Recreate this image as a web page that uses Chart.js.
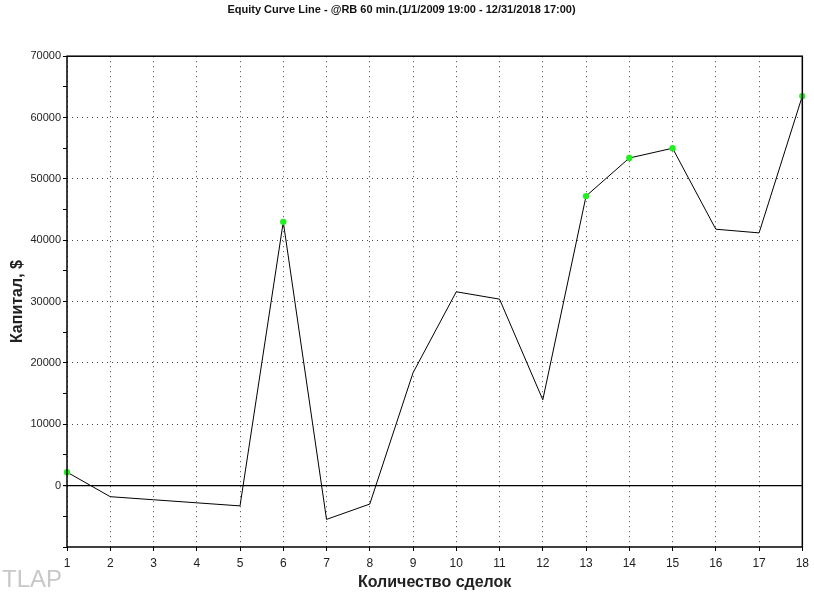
<!DOCTYPE html>
<html>
<head>
<meta charset="utf-8">
<script src="https://cdn.jsdelivr.net/npm/chart.js@4/dist/chart.umd.min.js"></script>
<style>
html,body{margin:0;padding:0;background:#fff;}
#wrap{width:814px;height:597px;}
</style>
</head>
<body>
<div id="wrap"><canvas id="c" width="814" height="597"></canvas></div>
<script>
const chartTitle = 'Equity Curve Line - @RB 60 min.(1/1/2009 19:00 - 12/31/2018 17:00)';
const xTitle = 'Количество сделок';
const yTitle = 'Капитал, $';
const watermark = 'TLAP';
const trades = ['1','2','3','4','5','6','7','8','9','10','11','12','13','14','15','16','17','18'];
const equity = [2200, -1800, -2300, -2800, -3300, 43000, -5500, -3000, 18400, 31600, 30400, 14000, 47200, 53400, 55000, 41800, 41200, 63500];

function isNewHigh(i){
  let mx = -Infinity;
  for(let k=0;k<i;k++) mx = Math.max(mx, equity[k]);
  return equity[i] > mx;
}

const framePlugin = {
  id:'frame',
  afterDraw(chart){
    const {ctx, chartArea:a} = chart;
    ctx.save();
    ctx.strokeStyle = '#000';
    ctx.lineWidth = 1.5;
    ctx.strokeRect(a.left, a.top, a.right-a.left, a.bottom-a.top);
    ctx.fillStyle = '#c8c8c8';
    ctx.font = '24px "Liberation Sans", Arial, sans-serif';
    ctx.textBaseline = 'alphabetic';
    ctx.fillText(watermark, 2, 587);
    ctx.restore();
  }
};

new Chart(document.getElementById('c'), {
  type:'line',
  data:{
    labels: trades,
    datasets:[{
      data: equity,
      borderColor:'#000',
      borderWidth:1,
      tension:0,
      fill:false,
      pointRadius: c => isNewHigh(c.dataIndex) ? 3.2 : 0,
      pointBackgroundColor:'#22ee22',
      pointBorderColor:'#22ee22',
      pointBorderWidth:0,
      pointHoverRadius:0
    }]
  },
  options:{
    responsive:false,
    animation:false,
    layout:{padding:{left:0,right:11,top:0,bottom:0}},
    plugins:{
      legend:{display:false},
      tooltip:{enabled:false},
      title:{
        display:true,
        text: chartTitle,
        color:'#111',
        font:{family:'"Liberation Sans", Arial, sans-serif', size:11, weight:'bold'},
        padding:{top:3,bottom:40}
      }
    },
    scales:{
      x:{
        type:'category',
        offset:false,
        afterFit: s => { s.height = 50; },
        grid:{
          display:true,
          color:'#444',
          lineWidth:1,
          drawTicks:true,
          tickLength:4,
          tickColor:'#000'
        },
        border:{display:false, dash:[1,4]},
        ticks:{
          color:'#222',
          padding:5,
          maxRotation:0,
          autoSkip:false,
          font:{family:'"Liberation Sans Narrow", "Liberation Sans", Arial, sans-serif', size:12}
        },
        title:{
          display:true,
          text:xTitle,
          color:'#222',
          font:{family:'"Liberation Sans", Arial, sans-serif', size:16, weight:'bold'},
          padding:{top:0,bottom:5}
        }
      },
      y:{
        min:-10000,
        max:70000,
        afterFit: s => { s.width = 67; },
        ticks:{
          stepSize:5000,
          color:'#222',
          padding:2,
          font:{family:'"Liberation Sans", Arial, sans-serif', size:11},
          callback: v => (v % 10000 === 0 && v >= 0) ? String(v) : ''
        },
        grid:{
          display:true,
          drawTicks:true,
          tickLength:4,
          tickColor:'#000',
          color: c => {
            const v = c.tick ? c.tick.value : null;
            if (v === 0) return '#000';
            if (v !== null && v % 10000 === 0 && v > -10000 && v < 70000) return '#444';
            return 'rgba(0,0,0,0)';
          },
          lineWidth: c => (c.tick && c.tick.value === 0) ? 1.2 : 1
        },
        border:{
          display:false,
          dash: c => (c.tick && c.tick.value === 0) ? [] : [1,4]
        },
        title:{
          display:true,
          text:yTitle,
          color:'#222',
          font:{family:'"Liberation Sans", Arial, sans-serif', size:16, weight:'bold'},
          padding:{top:8,bottom:0}
        }
      }
    }
  },
  plugins:[framePlugin]
});
</script>
</body>
</html>
